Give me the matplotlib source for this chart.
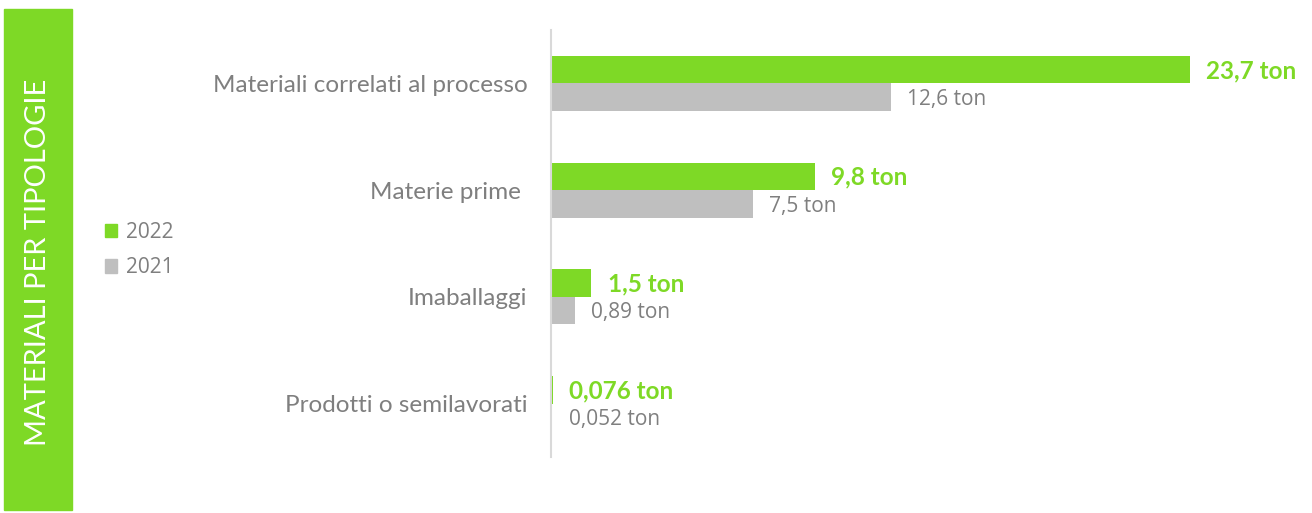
import matplotlib
matplotlib.use('Agg')
import matplotlib.pyplot as plt
from matplotlib.patches import Rectangle, Patch

# dati
categorie = ['Materiali correlati al processo', 'Materie prime ', 'Imaballaggi', 'Prodotti o semilavorati']
val_2022 = [23.7, 9.8, 1.5, 0.076]
val_2021 = [12.6, 7.5, 0.89, 0.052]
lab_2022 = ['23,7 ton', '9,8 ton', '1,5 ton', '0,076 ton']
lab_2021 = ['12,6 ton', '7,5 ton', '0,89 ton', '0,052 ton']

VERDE = '#7ed926'
GRIGIO = '#bfbfbf'
TESTO = '#7f7f7f'

fig = plt.figure(figsize=(13.12, 5.13), dpi=100)
W, H = 1312, 513

# barra laterale verde
fig.patches.append(Rectangle((4 / W, 1 - 510 / H), 68 / W, 501 / H,
                             transform=fig.transFigure, color=VERDE, zorder=0))
fig.text(38 / W, 1 - 262 / H, 'MATERIALI PER TIPOLOGIE', rotation=90,
         color='white', fontsize=21, family='Lato', ha='center', va='center')

# area del grafico
ax = fig.add_axes([551 / W, 1 - 457 / H, (1306 - 551) / W, 427 / H])
xmax = (1306 - 551) / 26.96
ax.set_xlim(0, xmax)
ax.set_ylim(len(categorie) - 0.5, -0.5)

h = 0.258
y = list(range(len(categorie)))
ax.barh([i - h / 2 for i in y], val_2022, height=h, color=VERDE, label='2022')
ax.barh([i + h / 2 for i in y], val_2021, height=h, color=GRIGIO, label='2021')

for i in y:
    ax.text(val_2022[i] + 0.6, i - h / 2 + 0.01, lab_2022[i], color=VERDE,
            fontsize=17.5, fontweight='bold', family='Lato', va='center', ha='left')
    ax.text(val_2021[i] + 0.6, i + h / 2 + 0.02, lab_2021[i], color=TESTO,
            fontsize=15, family='Open Sans', va='center', ha='left')

ax.set_yticks(y)
ax.set_yticklabels(categorie, fontsize=17.5, color=TESTO, family='Lato')
ax.tick_params(axis='y', length=0, pad=17)
ax.set_xticks([])
for s in ['top', 'right', 'bottom']:
    ax.spines[s].set_visible(False)
ax.spines['left'].set_color('#d9d9d9')
ax.spines['left'].set_linewidth(1.5)

# legenda
handles = [Patch(color=VERDE, label='2022'), Patch(color=GRIGIO, label='2021')]
leg = fig.legend(handles=handles, loc='center left', bbox_to_anchor=(86 / W, 1 - 250 / H),
                 frameon=False, handlelength=0.6, handleheight=0.6, handletextpad=0.4,
                 labelspacing=0.7, prop={'family': 'Open Sans', 'size': 15})
for t in leg.get_texts():
    t.set_color(TESTO)

fig.savefig('out.png', dpi=100)
